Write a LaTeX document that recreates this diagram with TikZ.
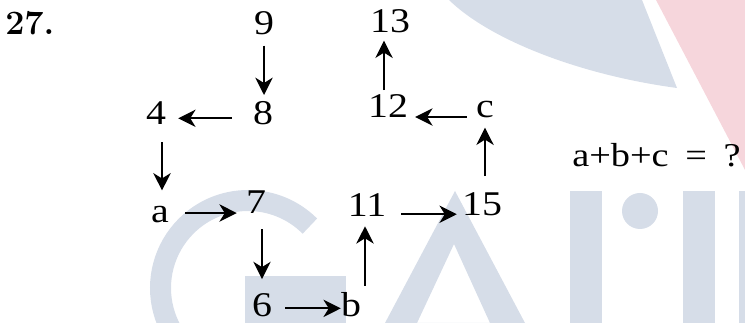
\documentclass[tikz,border=0pt]{standalone}
\usepackage{fontspec}
\newfontfamily\lab{Liberation Serif}[FakeStretch=1.15]
\usetikzlibrary{arrows.meta}
\definecolor{wmgrey}{RGB}{214,221,232}
\definecolor{wmpink}{RGB}{246,214,220}
\begin{document}
\begin{tikzpicture}[x=0.75pt,y=-0.75pt,
  lbl/.style={inner sep=0pt, anchor=base, font=\lab\fontsize{26}{30}\selectfont},
  arr/.style={line width=1.5pt, -{Stealth[length=13pt,width=13pt,inset=4pt]}},
  wm/.style={fill=wmgrey, draw=none}]
\useasboundingbox (0,0) rectangle (745,323);
% watermark
\begin{scope}
\clip (0,0) rectangle (745,323);
\fill[wmpink] (656,0) -- (745,0) -- (745,170) -- cycle;
\fill[wmgrey] (449,0) -- (642,0) -- (677,88) .. controls (580,75) and (490,40) .. (449,0) -- cycle;
\draw[wmgrey, line width=15.75pt] ([shift={(-45:87.5)}]248,288) arc[start angle=-45, end angle=-250, radius=87.5];
\fill[wm] (245,276) rectangle (346,323);
\fill[wm, even odd rule] (385,323) -- (455,191) -- (525,323) -- cycle (417,323) -- (454,244) -- (490,323) -- cycle;
\fill[wm] (570,191) rectangle (602,323);
\fill[wm] (640,211) circle[radius=18];
\fill[wm] (683,191) rectangle (715,323);
\fill[wm] (739,191) rectangle (745,323);
\end{scope}
% title
\node[inner sep=0pt, anchor=base west, font=\fontsize{25.6}{30}\bfseries] (t27) at (5,35) {27.};
% labels
\node[lbl] (n9) at (264,35) {9};
\node[lbl] (n8) at (263,125) {8};
\node[lbl] (n4) at (156,125) {4};
\node[lbl] (na) at (160,223) {a};
\node[lbl] (n7) at (256,214) {7};
\node[lbl] (n6) at (262,317) {6};
\node[lbl] (nb) at (351,317) {b};
\node[lbl] (n11) at (367,217) {11};
\node[lbl] (n15) at (482,216) {15};
\node[lbl] (nc) at (485,118) {c};
\node[lbl] (n12) at (388,118) {12};
\node[lbl] (n13) at (390,33) {13};
\node[inner sep=0pt, anchor=base west, font=\lab\fontsize{25}{30}\selectfont] (eq) at (572,167) {a+b+c\hspace{0.5em}=\hspace{0.5em}?};
% arrows
\draw[arr, shorten <=7.5pt, shorten >=5pt] (n9.south) -- (n9.south |- n8.north);
\draw[arr, shorten <=15.75pt, shorten >=9pt] ([yshift=-3.5pt]n8.west) -- ([yshift=-3.5pt]n8.west -| n4.east);
\draw[arr, shorten <=12.75pt, shorten >=12pt] ([xshift=1.5pt]na.north |- n4.south) -- ([xshift=1.5pt]na.north);
\draw[arr, shorten <=12pt, shorten >=6.75pt] ([yshift=1.5pt]na.east) -- ([yshift=1.5pt]na.east -| n7.west);
\draw[arr, shorten <=11.25pt, shorten >=11pt] (n6.north |- n7.south) -- (n6.north);
\draw[arr, shorten <=9.75pt, shorten >=0pt] ([yshift=-2pt]n6.east) -- ([yshift=-2pt]n6.east -| nb.west);
\draw[arr, shorten <=5.25pt, shorten >=6.75pt] ([xshift=-1.5pt]n11.south |- nb.north) -- ([xshift=-1.5pt]n11.south);
\draw[arr, shorten <=11.25pt, shorten >=3.75pt] ([yshift=-6.5pt]n11.east) -- ([yshift=-6.5pt]n11.east -| n15.west);
\draw[arr, shorten <=12.5pt, shorten >=6.75pt] (nc.south |- n15.north) -- (nc.south);
\draw[arr, shorten <=6.75pt, shorten >=5.25pt] ([yshift=0.75pt]nc.base west) -- ([yshift=0.75pt]nc.base west -| n12.east);
\draw[arr, shorten <=3.5pt, shorten >=5.25pt] ([xshift=-3pt]n12.north) -- ([xshift=-3pt]n12.north |- n13.south);
\end{tikzpicture}
\end{document}
